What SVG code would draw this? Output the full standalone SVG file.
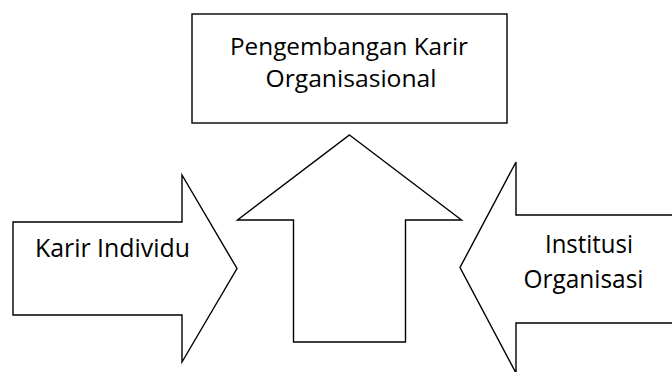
<svg xmlns="http://www.w3.org/2000/svg" width="672" height="372" viewBox="0 0 672 372">
<style>
.s{fill:#fff;stroke:#000;stroke-width:1.4;stroke-linejoin:miter}
.t{font-family:"Open Sans","Noto Sans",sans-serif;font-size:25px;fill:#000;text-anchor:middle}
.b{font-size:23px}
</style>
<rect width="672" height="372" fill="#fff"/>
<g id="connectors"></g>
<g id="box">
<rect class="s" x="192" y="14" width="315" height="109"/>
<text class="t b" x="349" y="55" textLength="238" lengthAdjust="spacingAndGlyphs">Pengembangan Karir</text>
<text class="t b" x="351" y="87" textLength="171" lengthAdjust="spacingAndGlyphs">Organisasional</text>
</g>
<g id="left-arrow">
<polygon class="s" points="13,222 182,222 182,175 237,268.5 182,362 182,315 13,315"/>
<text class="t" x="112.5" y="256.5" textLength="155" lengthAdjust="spacingAndGlyphs">Karir Individu</text>
</g>
<g id="up-arrow">
<polygon class="s" points="349.5,135 461.5,220 405.5,220 405.5,342 293.5,342 293.5,220 237.5,220"/>
</g>
<g id="right-arrow">
<polygon class="s" points="680,215 516,215 516,162 460,267.5 516,373 516,323 680,323"/>
<text class="t" x="589" y="253" textLength="88" lengthAdjust="spacingAndGlyphs">Institusi</text>
<text class="t" x="583.5" y="288" textLength="120" lengthAdjust="spacingAndGlyphs">Organisasi</text>
</g>
</svg>
